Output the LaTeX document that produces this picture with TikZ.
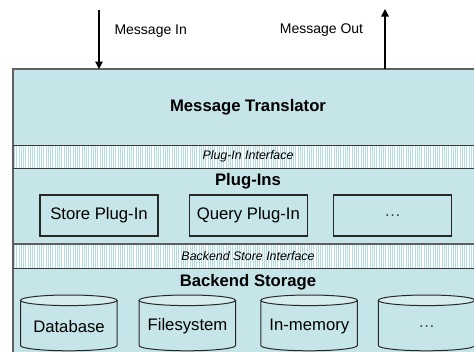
\documentclass[tikz,border=0pt]{standalone}
\usepackage{fontspec}
\setmainfont{Liberation Sans}
\usetikzlibrary{arrows.meta}
\definecolor{bgblue}{RGB}{198,229,233}
\definecolor{topblue}{RGB}{214,237,239}
\definecolor{stripeblue}{RGB}{178,221,227}
\definecolor{edgegray}{RGB}{95,95,95}
\definecolor{boxedge}{RGB}{40,40,40}
\begin{document}
\begin{tikzpicture}[x=1pt,y=-1pt,
  big/.style={font=\fontsize{16.7}{19}\selectfont},
  title/.style={font=\bfseries\fontsize{16.7}{19}\selectfont},
  iface/.style={font=\itshape\fontsize{12.4}{14}\selectfont},
  msg/.style={font=\fontsize{14}{16}\selectfont},
  plugbox/.style={draw=boxedge, line width=1.1pt, fill=bgblue, minimum width=118pt, minimum height=41pt, inner sep=0pt, big},
  cyl/.style={draw=boxedge, line width=1pt},
  sepline/.style={draw=boxedge!80!gray, line width=1pt},
  flow/.style={line width=1.5pt, -{Triangle[length=7.5pt,width=7.5pt]}}
]
\useasboundingbox (0,0) rectangle (474,351);
\clip (0,0) rectangle (474,351);
% layers
\fill[bgblue] (13,69) rectangle (483,145);
\fill[white] (13,145) rectangle (483,168);
\foreach \x in {14.5,16.75,...,483} \draw[stripeblue, line width=0.8pt] (\x,145) -- (\x,168);
\fill[bgblue] (13,168) rectangle (483,244);
\fill[white] (13,244) rectangle (483,268);
\foreach \x in {14.5,16.75,...,483} \draw[stripeblue, line width=0.8pt] (\x,244) -- (\x,268);
\fill[bgblue] (13,268) rectangle (483,370);
% borders
\draw[edgegray, line width=1.6pt] (483,69) -- (13,69) -- (13,370);
\draw[sepline] (13,145) -- (483,145);
\draw[sepline] (13,168) -- (483,168);
\draw[edgegray, line width=1.5pt] (13,244) -- (483,244);
\draw[sepline] (13,268) -- (483,268);
% texts of layers
\node[title] (mt) at (248,107) {Message Translator};
\node[iface] (pii) at (248,156.7) {Plug-In Interface};
\node[title] (pins) at (248,181.5) {Plug-Ins};
\node[iface] (bsi) at (248,256.5) {Backend Store Interface};
\node[title] (bst) at (248,282) {Backend Storage};
% plug-in boxes
\node[plugbox] (store) at (99,215.5) {Store Plug-In};
\node[plugbox] (query) at (248.3,215.5) {Query Plug-In};
\node[plugbox] (more) at (392.7,215.5) {\textcolor{black!75}{…}};
% cylinders
\foreach \L/\nm/\txt in {20.5/db/Database, 139/fs/Filesystem, 260.8/im/In-memory, 378.3/etc/{\textcolor{black!75}{…}}}{
  \fill[bgblue] (\L,300.3) -- (\L,345.5) arc[start angle=180,end angle=0,x radius=48.25,y radius=5.3] -- (\L+96.5,300.3) -- cycle;
  \draw[cyl] (\L,300.3) -- (\L,345.5) arc[start angle=180,end angle=0,x radius=48.25,y radius=5.3] -- (\L+96.5,300.3);
  \draw[cyl, fill=topblue] (\L+48.25,300.3) ellipse[x radius=48.25, y radius=5.3];
  \node[big] (\nm) at (\L+48.5,326.2) {\txt};
}
% message arrows
\coordinate (inTop) at (99,10);
\coordinate (inEnd) at (99,69);
\coordinate (outStart) at (385,69);
\coordinate (outTop) at (385,9);
\draw[flow] (inTop) -- (inEnd);
\draw[flow] (outStart) -- (outTop);
\node[msg, anchor=west] (msgin) at (111,31) {Message In};
\node[msg] (msgout) at (321.5,30.5) {Message Out};
\end{tikzpicture}
\end{document}
